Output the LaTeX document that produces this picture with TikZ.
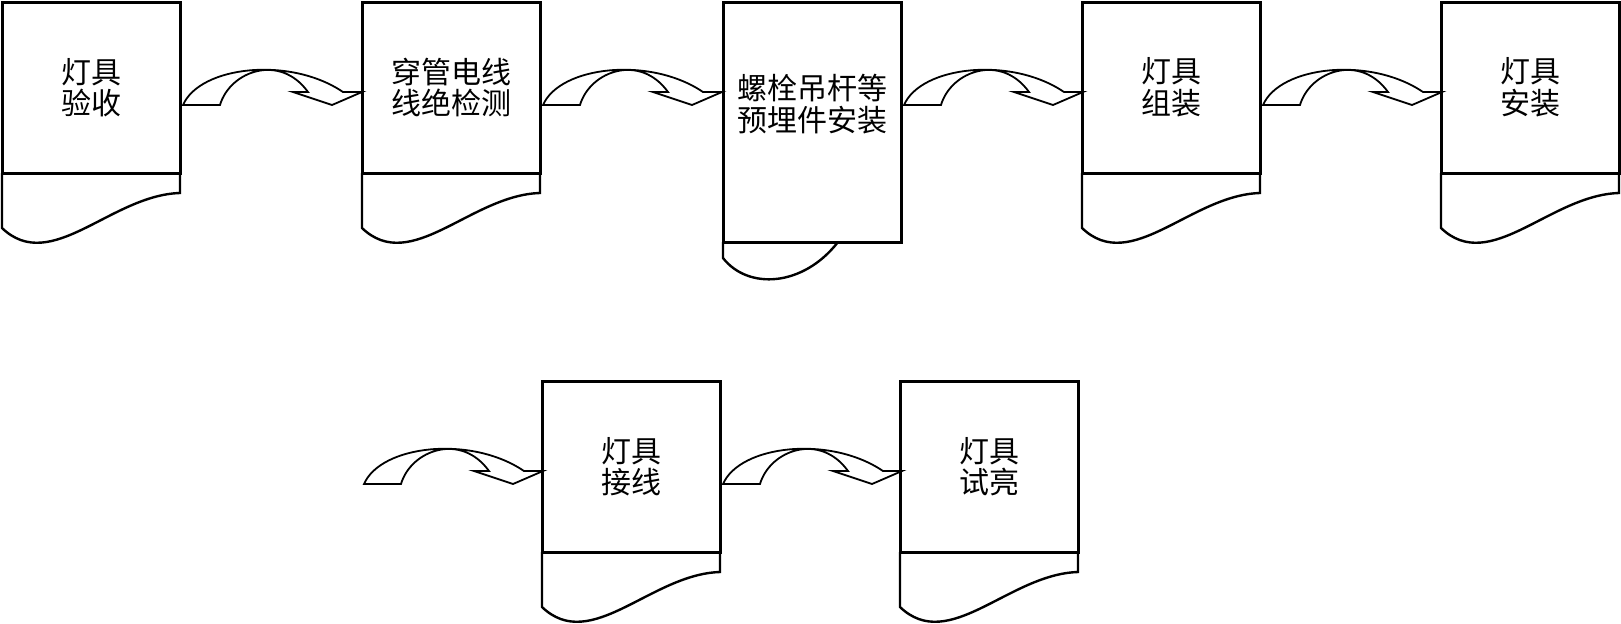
\documentclass[tikz,border=0pt]{standalone}
\usepackage{fontspec}
\setmainfont{Noto Sans CJK SC}
\usetikzlibrary{calc}
\tikzset{
	stepbox/.style={
		draw,
		line width=1.5pt,
		anchor=north west,
		minimum width=89pt,
		minimum height=85.5pt,
		inner sep=0pt,
		outer sep=0pt,
		align=center,
		font=\fontsize{15}{15.8}\selectfont
	},
	boxtext/.style={align=center, inner sep=0pt, font=\fontsize{15}{15.8}\selectfont},
	docline/.style={line width=1.2pt},
	arrline/.style={line width=0.9pt, line join=miter},
	docfoot/.pic={
		\draw[docline] (0,0) -- (0,55) .. controls (49,102) and (109,22) .. (178,20) -- (178,0);
	},
	shortfoot/.pic={
		\draw[docline] (0,0) -- (0,16) .. controls (25,48) and (80,45) .. (115,0);
	},
	bendarrow/.pic={
		\draw[arrline] (3,103) -- (40,103) .. controls (50,69) and (100,51) .. (128,90)
			-- (113,90) -- (152,103) -- (182,90) -- (163,90)
			.. controls (110,54) and (20,64) .. (3,103) -- cycle;
	}
}

\begin{document}
\begin{tikzpicture}[x=0.5pt, y=-0.5pt]
	\fill[white] (0,0) rectangle (1621,623);
	\path[use as bounding box] (0,0) rectangle (1621,623);
	% top row
	\node[stepbox] (b1) at (2,2) {灯具\\验收};
	\node[stepbox] (b2) at (362,2) {穿管电线\\线绝检测};
	\node[stepbox, minimum height=120pt] (b3) at (723,2) {};
	\node[boxtext] (t3) at ($(b3.north)+(0,102)$) {螺栓吊杆等\\预埋件安装};
	\node[stepbox] (b4) at (1082,2) {灯具\\组装};
	\node[stepbox] (b5) at (1441,2) {灯具\\安装};
	% bottom row
	\coordinate (s0) at (361,381);
	\node[stepbox] (b6) at (542,381) {灯具\\接线};
	\node[stepbox] (b7) at (900,381) {灯具\\试亮};
	% document feet
	\foreach \b in {b1,b2,b4,b5,b6,b7}
		\pic at (\b.south west) {docfoot};
	\pic at (b3.south west) {shortfoot};
	% curved arrows
	\pic at (b1.north east) {bendarrow};
	\pic at (b2.north east) {bendarrow};
	\pic at (b3.north east) {bendarrow};
	\pic at (b4.north east) {bendarrow};
	\pic at (s0) {bendarrow};
	\pic at (b6.north east) {bendarrow};
\end{tikzpicture}
\end{document}
